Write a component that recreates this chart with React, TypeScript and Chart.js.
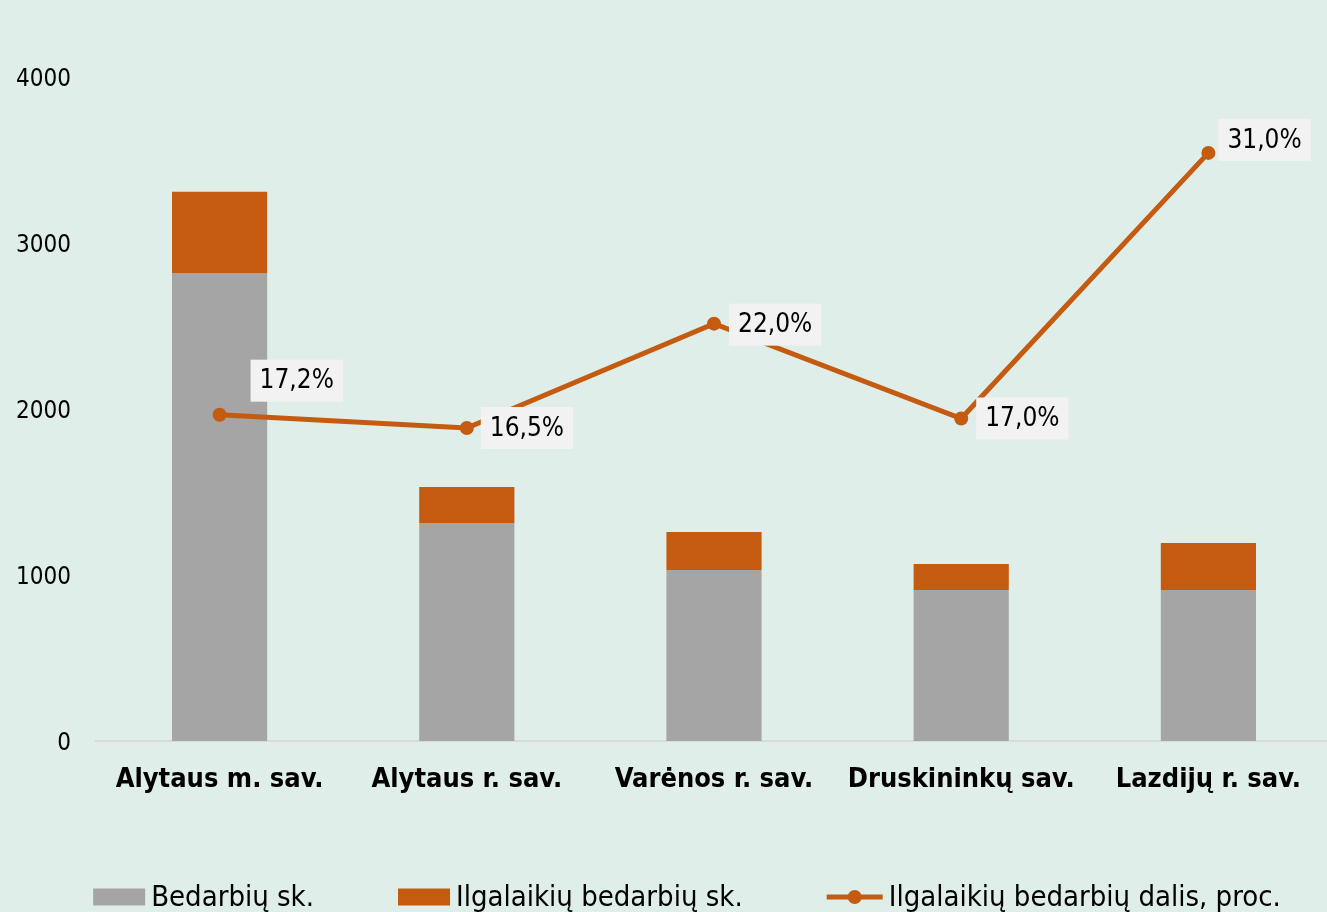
import React, { useEffect, useRef } from "react";
import { Chart, registerables } from "chart.js";

Chart.register(...registerables);

const categories = ["Alytaus m. sav.", "Alytaus r. sav.", "Varėnos r. sav.", "Druskininkų sav.", "Lazdijų r. sav."];
const bedarbiai = [2820, 1313, 1030, 910, 910];
const ilgalaikiai = [488, 217, 229, 156, 283];
const dalis = [17.2, 16.5, 22.0, 17.0, 31.0];
const yTicks = [0, 1000, 2000, 3000, 4000];
const seriesNames = ["Bedarbių sk.", "Ilgalaikių bedarbių sk.", "Ilgalaikių bedarbių dalis, proc."];

const FONT = 'Tahoma, "DejaVu Sans Condensed", "DejaVu Sans", sans-serif';
const BG = "#DFEEE8";
const GRAY = "#A5A5A5";
const ORANGE = "#C55A11";

const fmt = (v: number) => v.toFixed(1).replace(".", ",") + "%";

const labelPlugin = {
  id: "lineLabels",
  afterDatasetsDraw(chart: any) {
    const meta = chart.getDatasetMeta(2);
    const ctx = chart.ctx;
    const nudges = [
      [31, -34],
      [14, 0],
      [15, 1],
      [15, 0],
      [10, -13],
    ];
    ctx.save();
    ctx.font = `26px ${FONT}`;
    meta.data.forEach((pt: any, i: number) => {
      const txt = fmt(dalis[i]);
      const w = ctx.measureText(txt).width + 18;
      const h = 42;
      const left = pt.x + nudges[i][0];
      const cy = pt.y + nudges[i][1];
      ctx.fillStyle = "#F2F2F2";
      ctx.fillRect(left, cy - h / 2, w, h);
      ctx.fillStyle = "#000";
      ctx.textAlign = "center";
      ctx.textBaseline = "middle";
      ctx.fillText(txt, left + w / 2, cy + 1);
    });
    ctx.restore();
  },
};

const legendPlugin = {
  id: "customLegend",
  afterDraw(chart: any) {
    const ctx = chart.ctx;
    ctx.save();
    ctx.font = `29px ${FONT}`;
    ctx.textBaseline = "middle";
    ctx.textAlign = "left";
    const symW = [52, 52, 56];
    const textGap = 6;
    const itemGap = 84;
    const widths = seriesNames.map((n, i) => symW[i] + textGap + ctx.measureText(n).width);
    const total = widths.reduce((a, b) => a + b, 0) + itemGap * (seriesNames.length - 1);
    let x = 687 - total / 2;
    const y = 897;
    seriesNames.forEach((n, i) => {
      if (i < 2) {
        ctx.fillStyle = i === 0 ? GRAY : ORANGE;
        ctx.fillRect(x, y - 8.5, 52, 17);
      } else {
        ctx.strokeStyle = ORANGE;
        ctx.lineWidth = 5;
        ctx.beginPath();
        ctx.moveTo(x, y);
        ctx.lineTo(x + 56, y);
        ctx.stroke();
        ctx.fillStyle = ORANGE;
        ctx.beginPath();
        ctx.arc(x + 28, y, 7, 0, Math.PI * 2);
        ctx.fill();
      }
      ctx.fillStyle = "#000";
      ctx.fillText(n, x + symW[i] + textGap, y + 1);
      x += widths[i] + itemGap;
    });
    ctx.restore();
  },
};

export default function App() {
  const ref = useRef<HTMLCanvasElement>(null);
  useEffect(() => {
    document.body.style.margin = "0";
    document.body.style.background = BG;
    document.body.style.overflow = "hidden";
    const chart = new Chart(ref.current as HTMLCanvasElement, {
      type: "bar",
      data: {
        labels: categories,
        datasets: [
          {
            type: "bar",
            label: seriesNames[0],
            data: bedarbiai,
            backgroundColor: GRAY,
            yAxisID: "y",
            order: 1,
            barPercentage: 0.385,
            categoryPercentage: 1,
          } as any,
          {
            type: "bar",
            label: seriesNames[1],
            data: ilgalaikiai,
            backgroundColor: ORANGE,
            yAxisID: "y",
            order: 2,
            barPercentage: 0.385,
            categoryPercentage: 1,
          },
          {
            type: "line",
            label: seriesNames[2],
            data: dalis,
            borderColor: ORANGE,
            backgroundColor: ORANGE,
            borderWidth: 5,
            pointRadius: 7,
            pointBackgroundColor: ORANGE,
            pointBorderWidth: 0,
            yAxisID: "y1",
            order: 0,
          },
        ],
      },
      options: {
        animation: false,
        responsive: false,
        maintainAspectRatio: false,
        layout: { autoPadding: false, padding: { top: 77, right: 0, left: 0, bottom: 0 } },
        plugins: {
          legend: { display: false },
          tooltip: { enabled: false },
        },
        scales: {
          x: {
            stacked: true,
            grid: { display: false, drawTicks: false },
            border: { display: true, color: "#D9D9D9", width: 2 },
            ticks: {
              font: { family: FONT, size: 27, weight: "bold" },
              color: "#000",
              padding: 23,
              maxRotation: 0,
              autoSkip: false,
            },
            afterFit(scale: any) {
              scale.height = 171;
              scale.paddingLeft = 0;
              scale.paddingRight = 0;
            },
          },
          y: {
            stacked: true,
            min: 0,
            max: 4000,
            afterBuildTicks(scale: any) {
              scale.ticks = yTicks.map((v) => ({ value: v }));
            },
            grid: { display: false, drawTicks: false },
            border: { display: false },
            ticks: {
              font: { family: FONT, size: 24 },
              color: "#000",
              padding: 25,
              labelOffset: 3,
              callback: (v: any) => String(v),
            },
            afterFit(scale: any) {
              scale.width = 96;
            },
          },
          y1: {
            display: false,
            min: 0,
            max: 35,
            position: "right",
          },
        },
      },
      plugins: [labelPlugin, legendPlugin],
    } as any);
    return () => chart.destroy();
  }, []);
  return (
    <div style={{ width: 1327, height: 912, background: BG, overflow: "hidden" }}>
      <canvas ref={ref} width={1332} height={912} style={{ display: "block" }} />
    </div>
  );
}
